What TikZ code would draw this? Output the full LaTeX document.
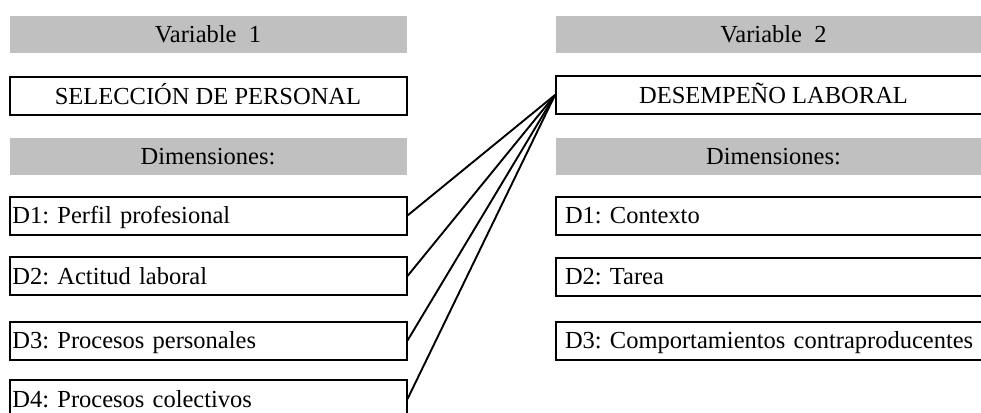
\documentclass[tikz,border=0pt]{standalone}
\usepackage{fontspec}
\setmainfont{Liberation Serif}
\definecolor{barg}{RGB}{192,192,192}
\begin{document}
\frenchspacing
\begin{tikzpicture}[x=1pt,y=-1pt,
  base/.style={inner xsep=0pt, inner ysep=0pt, text height=16.5pt, text depth=0pt,
               font=\fontsize{24.5}{29}\selectfont, anchor=center},
  lcol/.style={minimum width=397pt},
  rcol/.style={minimum width=435pt},
  graybar/.style={base, fill=barg, minimum height=37pt},
  mainbox/.style={base, draw, line width=2pt, minimum height=38pt},
  ldim/.style={base, draw, line width=2pt, minimum height=38pt,
               inner xsep=3pt, text width=391pt, align=left},
  rdim/.style={base, draw, line width=2pt, minimum height=38pt,
               inner xsep=9pt, text width=417pt, align=left},
  conn/.style={draw, line width=1.9pt}
]
\useasboundingbox (0,0) rectangle (981,412);
\clip (0,0) rectangle (981,412);
% left column
\node[graybar, lcol] (v1) at (208,34.5) {Variable\ \ 1};
\node[mainbox, lcol] (sel) at (208,96) {SELECCIÓN DE PERSONAL};
\node[graybar, lcol] (dimL) at (208,156) {Dimensiones:};
\node[ldim] (l1) at (208,215.5) {D1: Perfil profesional};
\node[ldim] (l2) at (208,276) {D2: Actitud laboral};
\node[ldim] (l3) at (208,340.5) {D3: Procesos personales};
\node[ldim] (l4) at (208,399) {D4: Procesos colectivos};
% right column
\node[graybar, rcol] (v2) at (773.5,34.5) {Variable\ \ 2};
\node[mainbox, rcol] (des) at (773.5,95) {DESEMPEÑO LABORAL};
\node[graybar, rcol] (dimR) at (773.5,156) {Dimensiones:};
\node[rdim] (r1) at (773.5,215.5) {D1: Contexto};
\node[rdim] (r2) at (773.5,276.5) {D2: Tarea};
\node[rdim] (r3) at (773.5,340.5) {D3: Comportamientos contraproducentes};
% connectors
\draw[conn] (l1.east) -- (des.west);
\draw[conn] (l2.east) -- (des.west);
\draw[conn] (l3.east) -- (des.west);
\draw[conn] (l4.east) -- (des.west);
\end{tikzpicture}
\end{document}
